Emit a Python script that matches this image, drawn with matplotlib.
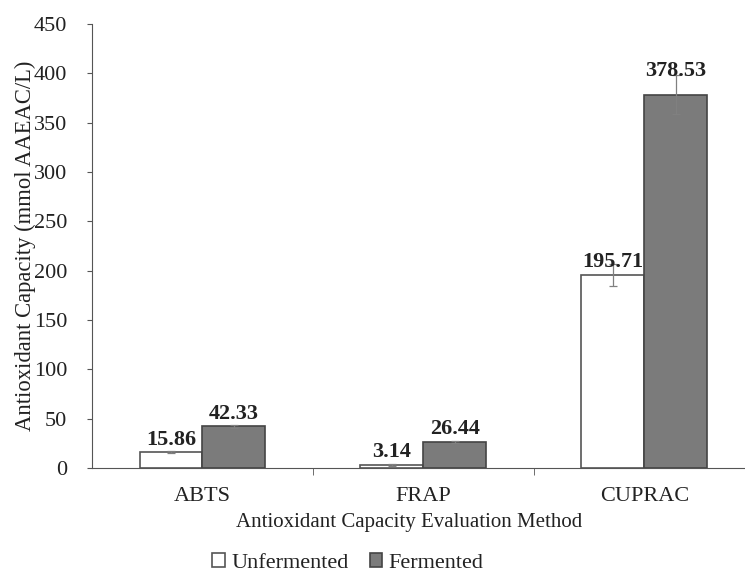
import matplotlib
matplotlib.use("Agg")
import matplotlib.pyplot as plt
import numpy as np

categories = ["ABTS", "FRAP", "CUPRAC"]
unfermented = [15.86, 3.14, 195.71]
fermented = [42.33, 26.44, 378.53]
unfermented_err = [1.0, 0.8, 11.0]
fermented_err = [1.5, 1.0, 20.0]
yticks = [0, 50, 100, 150, 200, 250, 300, 350, 400, 450]

plt.rcParams['font.family'] = ['Liberation Serif', 'DejaVu Serif']
plt.rcParams['text.color'] = '#222222'
plt.rcParams['axes.labelcolor'] = '#222222'
plt.rcParams['xtick.labelcolor'] = '#222222'
plt.rcParams['ytick.labelcolor'] = '#222222'

fig = plt.figure(figsize=(7.45, 5.75), dpi=100)
ax = fig.add_axes([92/745, (575-468)/575, (745-92)/745, (468-24)/575])

x = np.arange(len(categories))
w = 0.285
ekw = dict(ecolor="#808080", elinewidth=0.9, capsize=3, capthick=0.9)
ax.bar(x - w/2, unfermented, w, color="white", edgecolor="#555555", linewidth=1.2,
       yerr=unfermented_err, error_kw=ekw, label="Unfermented", zorder=2)
ax.bar(x + w/2, fermented, w, color="#7b7b7b", edgecolor="#444444", linewidth=1.2,
       yerr=fermented_err, error_kw=ekw, label="Fermented", zorder=2)

# label offsets in points above bar top
unf_off = [5.5, 5.5, 5.5]
fer_off = [5.5, 5.5, 13.5]
for xi, v, o in zip(x - w/2, unfermented, unf_off):
    ax.annotate(f"{v:.2f}", (xi, v), xytext=(0, o), textcoords="offset points",
                ha="center", va="baseline", fontsize=16, fontweight="bold", zorder=3)
for xi, v, o in zip(x + w/2, fermented, fer_off):
    ax.annotate(f"{v:.2f}", (xi, v), xytext=(0, o), textcoords="offset points",
                ha="center", va="baseline", fontsize=16, fontweight="bold", zorder=3)

ax.set_xlim(-0.5, 2.455)
ax.set_ylim(0, 450)
ax.set_yticks(yticks)
ax.set_xticks(x)
ax.set_xticklabels(categories)
ax.set_xticks([0.5, 1.5], minor=True)
ax.tick_params(axis="y", labelsize=16, color="#555555", direction="out", length=3.6, pad=14.4)
ax.tick_params(axis="x", which="major", labelsize=16, length=0, pad=14)
ax.tick_params(axis="x", which="minor", length=5, color="#555555")
for s in ["top", "right"]:
    ax.spines[s].set_visible(False)
for s in ["left", "bottom"]:
    ax.spines[s].set_color("#555555")
ax.set_xlabel("Antioxidant Capacity Evaluation Method", fontsize=15, labelpad=6)
ax.xaxis.set_label_coords((409 - 92) / 653, -(522 - 468) / 444, transform=ax.transAxes)
ax.xaxis.label.set_va("center")
ax.set_ylabel("Antioxidant Capacity (mmol AAEAC/L)", fontsize=16.3, labelpad=-2)

fig.legend(*ax.get_legend_handles_labels(), loc="center", bbox_to_anchor=(348/745, 1 - 563/575),
           ncol=2, frameon=False, fontsize=16, handlelength=0.55, handleheight=0.55,
           handletextpad=0.3, columnspacing=0.95)

fig.savefig("out.png", dpi=100)
